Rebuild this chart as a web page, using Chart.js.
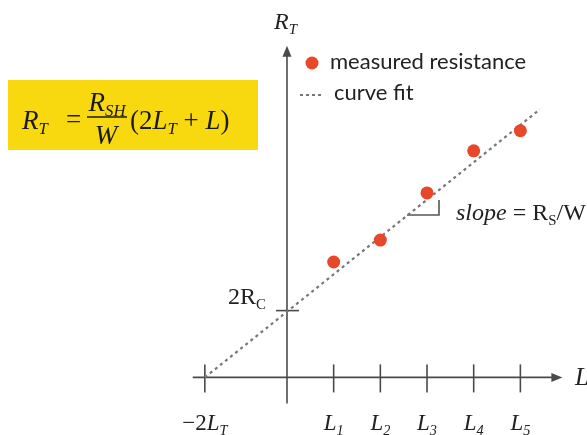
<!DOCTYPE html>
<html>
<head>
<meta charset="utf-8">
<script src="https://cdn.jsdelivr.net/npm/chart.js@4"></script>
<style>
  html, body { margin: 0; background: #fff; }
  #wrap { width: 587px; height: 435px; }
</style>
</head>
<body>
<div id="wrap"><canvas id="chart" width="587" height="435"></canvas></div>
<script>
// measured points at L1..L5 (x in units of L, y in units of R)
const lengths = [1, 2, 3, 4, 5];
const resistances = [2.47, 2.94, 3.95, 4.85, 5.28];

// curve fit end points
const fitX = [-1.76, 5.42];
const fitY = [0, 5.74];

// x axis ticks and their labels (prefix, letter, subscript)
const tickValues = [-1.76, 1, 2, 3, 4, 5];
const tickLabels = [["−2", "L", "T"], ["", "L", "1"], ["", "L", "2"], ["", "L", "3"], ["", "L", "4"], ["", "L", "5"]];

// y axis intercept tick (2Rc)
const interceptValue = 1.43;

const SERIF = '"Liberation Serif", "DejaVu Serif", serif';
const SANS = 'Lato, "Open Sans", sans-serif';
const AXIS = "#4a4a4a";

// draws runs of text: [text, style, sub]
function runs(ctx, parts, x, y, size, align) {
  const widths = parts.map(p => {
    ctx.font = `${p[1]} ${p[2] ? size * 0.62 : size}px ${SERIF}`;
    return ctx.measureText(p[0]).width;
  });
  const total = widths.reduce((a, b) => a + b, 0);
  let cx = align === "center" ? x - total / 2 : x;
  ctx.textAlign = "left";
  ctx.textBaseline = "alphabetic";
  parts.forEach((p, i) => {
    ctx.font = `${p[1]} ${p[2] ? size * 0.62 : size}px ${SERIF}`;
    ctx.fillText(p[0], cx, y + (p[2] ? size * 0.2 : 0));
    cx += widths[i];
  });
}

function line(ctx, x1, y1, x2, y2) {
  ctx.beginPath();
  ctx.moveTo(x1, y1);
  ctx.lineTo(x2, y2);
  ctx.stroke();
}

const decorations = {
  id: "decorations",
  beforeDatasetsDraw(chart) {
    const ctx = chart.ctx;
    const xs = chart.scales.x;
    const ys = chart.scales.y;
    const x0 = xs.getPixelForValue(0);
    const y0 = ys.getPixelForValue(0);
    ctx.save();
    ctx.strokeStyle = AXIS;
    ctx.fillStyle = AXIS;
    ctx.lineWidth = 1.6;

    // x axis with arrow
    const xEnd = xs.getPixelForValue(5.9);
    line(ctx, xs.getPixelForValue(-2.02), y0, xEnd - 6, y0);
    ctx.beginPath();
    ctx.moveTo(xEnd, y0);
    ctx.lineTo(xEnd - 11, y0 - 4.5);
    ctx.lineTo(xEnd - 11, y0 + 4.5);
    ctx.closePath();
    ctx.fill();

    // y axis with arrow
    const yTop = ys.getPixelForValue(7.1);
    line(ctx, x0, ys.getPixelForValue(-0.56), x0, yTop + 6);
    ctx.beginPath();
    ctx.moveTo(x0, yTop);
    ctx.lineTo(x0 - 4.5, yTop + 11);
    ctx.lineTo(x0 + 4.5, yTop + 11);
    ctx.closePath();
    ctx.fill();

    // x ticks
    ctx.fillStyle = "#222";
    tickValues.forEach((v, i) => {
      const px = xs.getPixelForValue(v);
      line(ctx, px, y0 - 13, px, y0 + 15);
      const t = tickLabels[i];
      const parts = [];
      if (t[0]) parts.push([t[0], "normal", false]);
      parts.push([t[1], "italic", false]);
      parts.push([t[2], "italic", true]);
      runs(ctx, parts, px, 430, 23, "center");
    });

    // intercept tick
    const yi = ys.getPixelForValue(interceptValue);
    line(ctx, x0 - 11, yi, x0 + 12, yi);
    runs(ctx, [["2R", "normal", false], ["C", "normal", true]], 228, 304, 24, "left");

    // axis names
    runs(ctx, [["R", "italic", false], ["T", "italic", true]], 274, 29, 24, "left");
    runs(ctx, [["L", "italic", false]], 575, 385, 25, "left");

    // slope marker
    ctx.strokeStyle = "#555";
    ctx.lineWidth = 1.6;
    ctx.beginPath();
    ctx.moveTo(439, 200);
    ctx.lineTo(439, 215);
    ctx.lineTo(407, 215);
    ctx.stroke();
    runs(ctx, [["slope", "italic", false], [" = ", "normal", false], ["R", "normal", false], ["S", "normal", true], ["/W", "normal", false]], 456, 220, 24, "left");

    // formula box
    ctx.fillStyle = "#F8D90F";
    ctx.fillRect(8, 80, 250, 70);
    ctx.fillStyle = "#1a1a1a";
    runs(ctx, [["R", "italic", false], ["T", "italic", true]], 22, 129, 27, "left");
    runs(ctx, [["=", "normal", false]], 66, 128, 27, "left");
    runs(ctx, [["R", "italic", false], ["SH", "italic", true]], 107, 111, 27, "center");
    ctx.strokeStyle = "#1a1a1a";
    ctx.lineWidth = 1.5;
    line(ctx, 87, 117, 127, 117);
    runs(ctx, [["W", "italic", false]], 106, 144, 27, "center");
    runs(ctx, [["(2", "normal", false], ["L", "italic", false], ["T", "italic", true], [" + ", "normal", false], ["L", "italic", false], [")", "normal", false]], 130, 129, 27, "left");

    // legend
    ctx.fillStyle = "#E8472A";
    ctx.beginPath();
    ctx.arc(312, 63, 6.5, 0, Math.PI * 2);
    ctx.fill();
    ctx.fillStyle = "#222";
    ctx.font = `22px ${SANS}`;
    ctx.textBaseline = "middle";
    ctx.fillText("measured resistance", 330, 62);
    ctx.fillText("curve fit", 334, 93);
    ctx.strokeStyle = "#777";
    ctx.lineWidth = 2;
    ctx.setLineDash([3, 3]);
    line(ctx, 300, 95, 324, 95);
    ctx.restore();
  }
};

new Chart(document.getElementById("chart"), {
  type: "scatter",
  data: {
    datasets: [
      {
        label: "curve fit",
        data: fitX.map((x, i) => ({ x: x, y: fitY[i] })),
        showLine: true,
        borderColor: "#777",
        borderWidth: 2.2,
        borderDash: [3, 3.5],
        pointRadius: 0,
        order: 2,
      },
      {
        label: "measured resistance",
        data: lengths.map((x, i) => ({ x: x, y: resistances[i] })),
        backgroundColor: "#E8472A",
        borderWidth: 0,
        pointRadius: 6.5,
        order: 1,
      },
    ],
  },
  options: {
    responsive: false,
    animation: false,
    events: [],
    layout: { padding: 0 },
    plugins: {
      legend: { display: false },
      tooltip: { enabled: false },
    },
    scales: {
      x: { type: "linear", display: false, min: -6.009, max: 6.288 },
      y: { type: "linear", display: false, min: -1.094, max: 7.94 },
    },
  },
  plugins: [decorations],
});
</script>
</body>
</html>
